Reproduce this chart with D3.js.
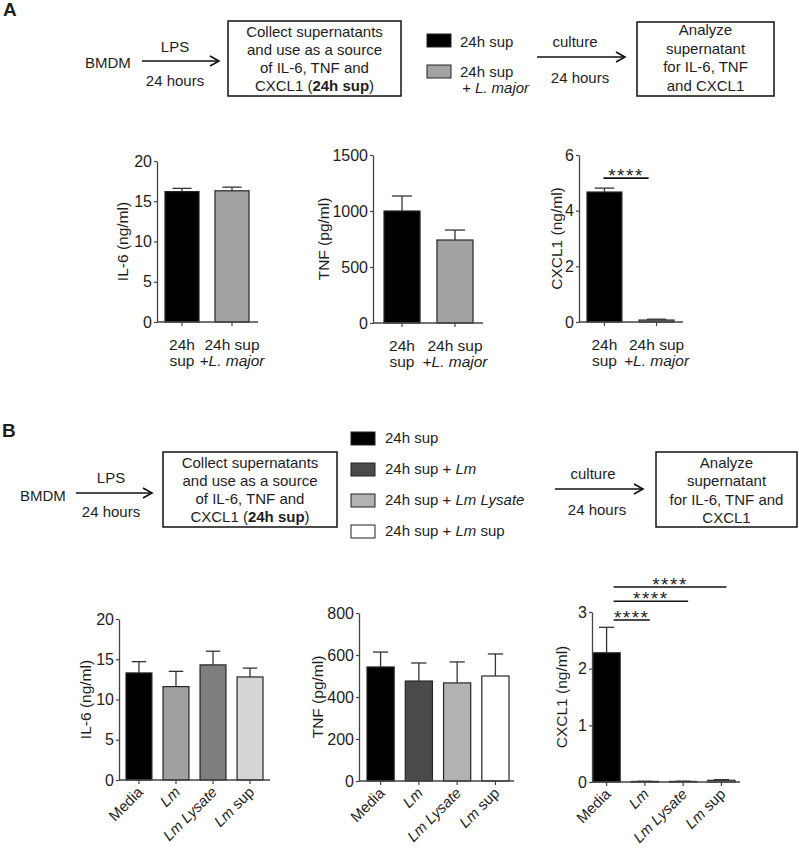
<!DOCTYPE html>
<html><head><meta charset="utf-8">
<script src="https://cdn.jsdelivr.net/npm/d3@7"></script>
<style>
body{margin:0;background:#fff}
svg{display:block}
text{font-family:"Liberation Sans",Arial,sans-serif;fill:#1e1e1e}
</style>
</head><body>
<svg id="fig" width="799" height="848"></svg>
<script>
// ---------------- DATA ----------------
const catsA = ["24h sup", "24h sup +L. major"];
const il6A = [16.2, 16.3];
const il6AErr = [0.4, 0.45];
const tnfA = [1000, 741];
const tnfAErr = [134, 89];
const cxcl1A = [4.67, 0.07];
const cxcl1AErr = [0.14, 0.03];

const catsB = ["Media", "Lm", "Lm Lysate", "Lm sup"];
const il6B = [13.3, 11.6, 14.3, 12.8];
const il6BErr = [1.4, 1.9, 1.7, 1.1];
const tnfB = [543, 476, 467, 500];
const tnfBErr = [71, 86, 100, 105];
const cxcl1B = [2.28, 0.01, 0.01, 0.03];
const cxcl1BErr = [0.45, 0.003, 0.004, 0.012];

const ticksIl6 = [0, 5, 10, 15, 20];
const ticksTnfA = [0, 500, 1000, 1500];
const ticksCxA = [0, 2, 4, 6];
const ticksTnfB = [0, 200, 400, 600, 800];
const ticksCxB = [0, 1, 2, 3];

const sigA = [{from: 0, to: 1, at: 5.17, label: "****"}];
const sigB = [{from: 0, to: 1, at: 2.86, label: "****"},
              {from: 0, to: 2, at: 3.19, label: "****"},
              {from: 0, to: 3, at: 3.44, label: "****"}];

const legendA = ["24h sup", "24h sup", "+ L. major"];
const legendB = ["24h sup", "24h sup + Lm", "24h sup + Lm Lysate", "24h sup + Lm sup"];
const labelA = [["24h", "sup"], ["24h sup", "+L. major"]];

// ---------------- DRAW ----------------
const svg = d3.select("#fig");
const FONT = '"Liberation Sans",Arial,sans-serif';
const ITALIC = new Set(["Lm", "Lysate", "L.", "major", "+L."]);

function richText(sel, str) {
  const toks = str.split(" ");
  toks.forEach((t, i) => {
    sel.append("tspan")
      .attr("font-style", ITALIC.has(t) ? "italic" : "normal")
      .text((i > 0 ? " " : "") + t);
  });
}

function arrow(x1, x2, y) {
  svg.append("line").attr("x1", x1).attr("x2", x2).attr("y1", y).attr("y2", y)
    .attr("stroke", "#111").attr("stroke-width", 1.6);
  svg.append("path").attr("d", `M${x2 - 9},${y - 5}L${x2},${y}L${x2 - 9},${y + 5}`)
    .attr("fill", "none").attr("stroke", "#111").attr("stroke-width", 1.6);
}
function txt(x, y, s, anchor = "middle", size = 15, weight = "normal") {
  return svg.append("text").attr("x", x).attr("y", y).attr("text-anchor", anchor)
    .attr("font-size", size).attr("font-weight", weight).text(s);
}
function box(x1, y1, x2, y2, lines, cx, baselines) {
  svg.append("rect").attr("x", x1).attr("y", y1).attr("width", x2 - x1).attr("height", y2 - y1)
    .attr("fill", "#fff").attr("stroke", "#111").attr("stroke-width", 1.5);
  lines.forEach((l, i) => {
    const t = svg.append("text").attr("x", cx).attr("y", baselines[i]).attr("text-anchor", "middle").attr("font-size", 15);
    if (Array.isArray(l)) {
      l.forEach(p => t.append("tspan").attr("font-weight", p[1] ? "bold" : "normal").text(p[0]));
    } else t.text(l);
  });
}

// Panel A diagram
txt(3, 16, "A", "start", 19, "bold");
txt(85, 68, "BMDM", "start");
arrow(142, 219, 61);
txt(175, 52, "LPS");
txt(175, 86, "24 hours");
box(228, 21, 401, 96,
  ["Collect supernatants", "and use as a source", "of IL-6, TNF and", [["CXCL1 (", 0], ["24h sup", 1], [")", 0]]],
  314.5, [37, 55, 73, 91]);
const swA = ["#000000", "#a3a3a6"];
[34, 65].forEach((yy, i) => {
  svg.append("rect").attr("x", 427).attr("y", yy).attr("width", 24).attr("height", 13)
    .attr("fill", swA[i]).attr("stroke", "#222").attr("stroke-width", 1);
});
txt(460, 47, legendA[0], "start");
txt(460, 77, legendA[1], "start");
{ const t = svg.append("text").attr("x", 462).attr("y", 93).attr("font-size", 15).attr("font-style", "italic"); t.text(legendA[2]); }
arrow(537, 625, 57);
txt(575, 47, "culture");
txt(580, 83, "24 hours");
box(637, 22, 774, 96, ["Analyze", "supernatant", "for IL-6, TNF", "and CXCL1"], 705.5, [35, 53.5, 72, 90.5]);

// Panel B diagram
txt(2, 437, "B", "start", 19, "bold");
txt(20, 501, "BMDM", "start");
arrow(76, 152, 493);
txt(111, 483, "LPS");
txt(111, 517, "24 hours");
box(163, 452, 337, 527,
  ["Collect supernatants", "and use as a source", "of IL-6, TNF and", [["CXCL1 (", 0], ["24h sup", 1], [")", 0]]],
  250, [468, 486, 504, 522]);
const swB = ["#000000", "#4a4a4a", "#b2b2b2", "#ffffff"];
legendB.forEach((l, i) => {
  svg.append("rect").attr("x", 351).attr("y", 432 + i * 31).attr("width", 24).attr("height", 13)
    .attr("fill", swB[i]).attr("stroke", "#222").attr("stroke-width", 1);
  const t = svg.append("text").attr("x", 385).attr("y", 443 + i * 31).attr("font-size", 15);
  richText(t, l);
});
arrow(555, 643, 489);
txt(593, 479, "culture");
txt(597, 515, "24 hours");
box(656, 452, 797, 527, ["Analyze", "supernatant", "for IL-6, TNF and", "CXCL1"], 726.5, [468, 486, 505, 523]);

// ---------------- BAR CHARTS ----------------
function barChart(o) {
  const g = svg.append("g");
  const y = d3.scaleLinear().domain([0, o.ticks[o.ticks.length - 1]]).range([o.y0, o.y1]);
  const x = d3.scaleBand().domain(o.cats).range(o.barRange).paddingInner(o.pad).paddingOuter(0);
  const bw = x.bandwidth();
  const cx = c => x(c) + bw / 2;

  // bars
  g.selectAll("rect.bar").data(o.cats).join("rect")
    .attr("x", c => x(c)).attr("width", bw)
    .attr("y", (c, i) => y(o.values[i])).attr("height", (c, i) => o.y0 - y(o.values[i]))
    .attr("fill", (c, i) => o.colors[i]).attr("stroke", "#262626").attr("stroke-width", 1.2);
  // error bars (upper)
  o.cats.forEach((c, i) => {
    const top = y(o.values[i] + o.errs[i]), base = y(o.values[i]);
    g.append("line").attr("x1", cx(c)).attr("x2", cx(c)).attr("y1", base).attr("y2", top)
      .attr("stroke", "#333").attr("stroke-width", 1.3);
    g.append("line").attr("x1", cx(c) - bw * 0.28).attr("x2", cx(c) + bw * 0.28).attr("y1", top).attr("y2", top)
      .attr("stroke", "#333").attr("stroke-width", 1.3);
  });

  // y axis
  const ya = g.append("g").attr("transform", `translate(${o.axisX},0)`)
    .call(d3.axisLeft(y).tickValues(o.ticks).tickFormat(d3.format("d"))
      .tickSize(3).tickPadding(2).tickSizeOuter(0));
  ya.attr("font-family", FONT).attr("font-size", 16);
  ya.select(".domain").attr("stroke", "#444").attr("stroke-width", 1.3);
  ya.selectAll(".tick line").attr("stroke", "#444").attr("stroke-width", 1.2);
  ya.selectAll(".tick text").attr("fill", "#1e1e1e");

  // x axis
  g.append("line").attr("x1", o.axisX).attr("x2", o.axisEnd).attr("y1", o.y0).attr("y2", o.y0)
    .attr("stroke", "#444").attr("stroke-width", 1.3);
  const xa = g.append("g").attr("transform", `translate(0,${o.y0})`)
    .call(d3.axisBottom(x).tickSize(4).tickSizeOuter(0).tickFormat(""));
  xa.select(".domain").remove();
  xa.selectAll(".tick line").attr("stroke", "#444").attr("stroke-width", 1.2);

  // x labels
  if (o.rotate) {
    o.cats.forEach(c => {
      const t = g.append("text").attr("font-size", 15).attr("text-anchor", "end")
        .attr("transform", `translate(${cx(c) + 5},${o.y0 + 13}) rotate(-45)`);
      richText(t, c);
    });
  } else {
    o.cats.forEach((c, i) => {
      o.labelLines[i].forEach((l, k) => {
        const t = g.append("text").attr("x", cx(c)).attr("y", o.y0 + 28 + k * 16)
          .attr("text-anchor", "middle").attr("font-size", 15.5);
        richText(t, l);
      });
    });
  }

  // y title
  g.append("text").attr("transform", `translate(${o.titleX},${(o.y0 + o.y1) / 2}) rotate(-90)`)
    .attr("text-anchor", "middle").attr("dy", "0.35em").attr("font-size", 15.5).text(o.title);

  // significance
  (o.sig || []).forEach(s => {
    const ly = y(s.at);
    const x1 = cx(o.cats[s.from]) + o.sigOff[0], x2 = cx(o.cats[s.to]) + o.sigOff[1];
    g.append("line").attr("x1", x1).attr("x2", x2).attr("y1", ly).attr("y2", ly)
      .attr("stroke", "#111").attr("stroke-width", 1.6);
    g.append("text").attr("x", (x1 + x2) / 2).attr("y", ly + 4).attr("text-anchor", "middle")
      .attr("font-size", 19).attr("letter-spacing", 1.5).text(s.label);
  });
}

barChart({cats: catsA, values: il6A, errs: il6AErr, ticks: ticksIl6, y0: 322, y1: 161,
  axisX: 157, axisEnd: 258, barRange: [165, 249], pad: 0.32, colors: ["#000", "#a3a3a6"],
  labelLines: labelA, title: "IL-6 (ng/ml)", titleX: 123});
barChart({cats: catsA, values: tnfA, errs: tnfAErr, ticks: ticksTnfA, y0: 323, y1: 155,
  axisX: 373, axisEnd: 483, barRange: [384, 473], pad: 0.32, colors: ["#000", "#a3a3a6"],
  labelLines: labelA, title: "TNF (pg/ml)", titleX: 324});
barChart({cats: catsA, values: cxcl1A, errs: cxcl1AErr, ticks: ticksCxA, y0: 322, y1: 155,
  axisX: 579, axisEnd: 683, barRange: [587, 674], pad: 0.33, colors: ["#000", "#a3a3a6"],
  labelLines: labelA, title: "CXCL1 (ng/ml)", titleX: 557, sig: sigA, sigOff: [-1, -8]});

barChart({cats: catsB, values: il6B, errs: il6BErr, ticks: ticksIl6, y0: 780, y1: 619,
  axisX: 119, axisEnd: 270, barRange: [126, 263], pad: 0.30,
  colors: ["#000", "#a0a0a3", "#7e7e7e", "#d6d6d6"], rotate: true, title: "IL-6 (ng/ml)", titleX: 86});
barChart({cats: catsB, values: tnfB, errs: tnfBErr, ticks: ticksTnfB, y0: 781, y1: 613,
  axisX: 359, axisEnd: 514, barRange: [367, 509], pad: 0.29,
  colors: ["#000", "#4a4a4a", "#b2b2b2", "#fff"], rotate: true, title: "TNF (pg/ml)", titleX: 318});
barChart({cats: catsB, values: cxcl1B, errs: cxcl1BErr, ticks: ticksCxB, y0: 782, y1: 612,
  axisX: 592, axisEnd: 740, barRange: [593, 735], pad: 0.29,
  colors: ["#000", "#4a4a4a", "#b2b2b2", "#fff"], rotate: true, title: "CXCL1 (ng/ml)", titleX: 562,
  sig: sigB, sigOff: [7, 5]});
</script>
</body></html>
